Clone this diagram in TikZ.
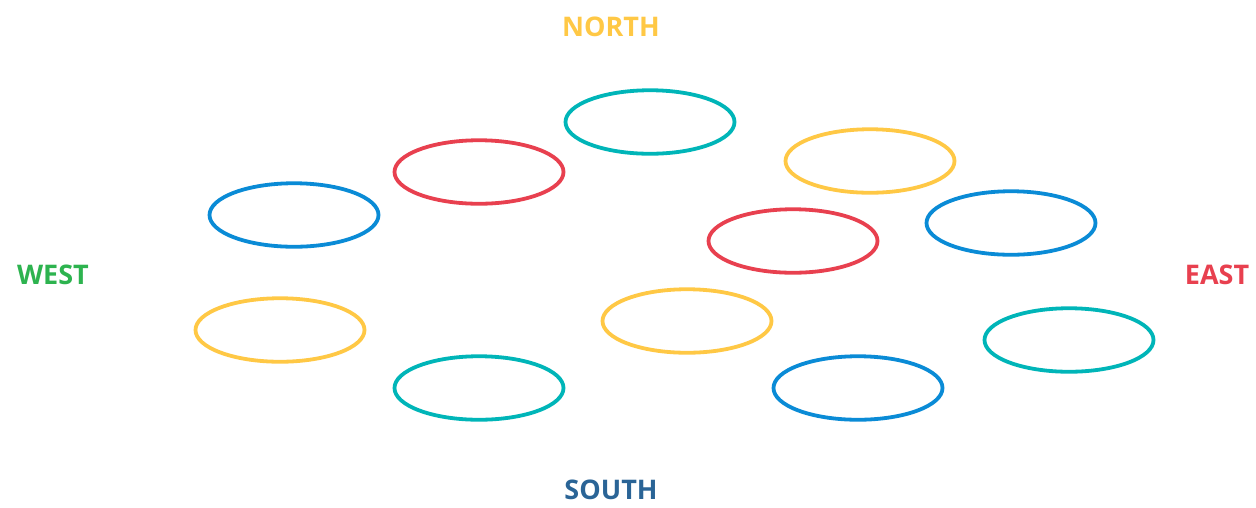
\documentclass[tikz,border=0pt]{standalone}
\usepackage{fontspec}
\setmainfont{Open Sans}
\usetikzlibrary{shapes.geometric}
\definecolor{cyel}{HTML}{FFC845}
\definecolor{cteal}{HTML}{00B5B8}
\definecolor{cred}{HTML}{E8404F}
\definecolor{cblue}{HTML}{0A8BD6}
\definecolor{cgreen}{HTML}{2DB34F}
\definecolor{cnavy}{HTML}{2A6496}
\begin{document}
\begin{tikzpicture}[x=1pt,y=-1pt,
  ring/.style={draw=#1,ellipse,line width=3.8pt,minimum width=169pt,minimum height=63.5pt,inner sep=0pt},
  dir/.style={text=#1,font=\bfseries\fontsize{27}{30}\selectfont,inner sep=0pt}]
\useasboundingbox (0,0) rectangle (1256,507);
\node[ring=cteal] (e1) at (650,122) {};
\node[ring=cred] (e2) at (479,172) {};
\node[ring=cyel] (e3) at (870,161) {};
\node[ring=cblue] (e4) at (294,215) {};
\node[ring=cred] (e5) at (793,241) {};
\node[ring=cblue] (e6) at (1011,223) {};
\node[ring=cyel] (e7) at (280,330) {};
\node[ring=cyel] (e8) at (687,321) {};
\node[ring=cteal] (e9) at (1069,340) {};
\node[ring=cteal] (e10) at (479,388) {};
\node[ring=cblue] (e11) at (858,388) {};
\node[dir=cyel] (n) at (611,27) {NORTH};
\node[dir=cgreen] (w) at (53,275) {WEST};
\node[dir=cred] (e) at (1217,275) {EAST};
\node[dir=cnavy] (s) at (611,490) {SOUTH};
\end{tikzpicture}
\end{document}
